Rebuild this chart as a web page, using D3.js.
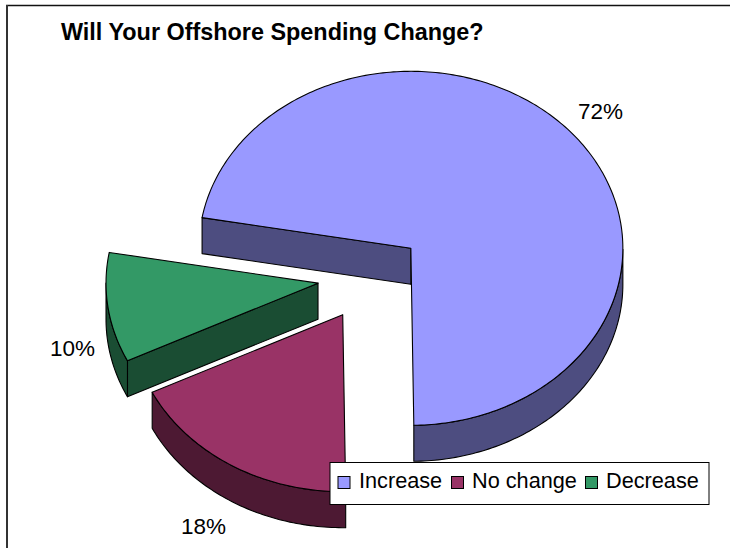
<!DOCTYPE html>
<html>
<head>
<meta charset="utf-8">
<script src="https://cdn.jsdelivr.net/npm/d3@7"></script>
<style>
  html, body { margin: 0; padding: 0; background: #fff; }
  svg { display: block; }
  text { font-family: "Liberation Sans", Arial, sans-serif; fill: #000; }
</style>
</head>
<body>
<svg id="chart" width="730" height="548"></svg>
<script>
// Survey answers, in percent
const categories = ["Increase", "No change", "Decrease"];
const shares = [72, 18, 10];
const topColours = ["#9999ff", "#993366", "#339966"];
const sideColours = ["#4d4d80", "#4d1933", "#1a4d33"];

const svg = d3.select("#chart");

// Tilted pie geometry
const cx = 370.5, cy = 277;
const rx = 212, ry = 177, depth = 36;
const explode = 0.25;
const firstAngle = -80 * Math.PI / 180;

const arcs = d3.pie().sort(null).value(d => d)
  .startAngle(firstAngle)
  .endAngle(firstAngle + 2 * Math.PI)(shares);

const project = (o, a) => [o[0] + rx * Math.sin(a), o[1] - ry * Math.cos(a)];
const curve = d3.line().curve(d3.curveLinear);

function arcPoints(o, a0, a1) {
  const n = Math.max(2, Math.ceil(Math.abs(a1 - a0) * 60));
  return d3.range(n + 1).map(i => project(o, a0 + (a1 - a0) * i / n));
}

const slices = arcs.map((d, i) => {
  const mid = (d.startAngle + d.endAngle) / 2;
  return {
    ...d, i,
    centre: [cx + rx * explode * Math.sin(mid), cy - ry * explode * Math.cos(mid)]
  };
});

const drop = pts => pts.map(p => [p[0], p[1] + depth]);
const frontStart = Math.PI / 2, frontEnd = 3 * Math.PI / 2;

function outerWall(s) {
  // The visible rim is the part of the arc facing the viewer
  const norm = a => ((a % (2 * Math.PI)) + 2 * Math.PI) % (2 * Math.PI);
  const sweep = s.endAngle - s.startAngle;
  const parts = [];
  d3.range(0, 721).forEach(k => {
    const t = s.startAngle + sweep * k / 720;
    const n = norm(t);
    if (n >= frontStart && n <= frontEnd) parts.push(t);
  });
  if (!parts.length) return null;
  const top = arcPoints(s.centre, parts[0], parts[parts.length - 1]);
  return top.concat(drop(top).reverse());
}

function cutWall(s, a) {
  const p = project(s.centre, a);
  const q = s.centre;
  return [q, p, [p[0], p[1] + depth], [q[0], q[1] + depth]];
}

const applyBorder = sel => sel
  .attr("stroke", "#000").attr("stroke-width", 1.1).attr("stroke-linejoin", "round");

// Chart frame: only the top and left edges fall inside the page
svg.append("line").attr("x1", 6).attr("x2", 730).attr("y1", 5.5).attr("y2", 5.5)
  .attr("stroke", "#111").attr("stroke-width", 1.4);
svg.append("line").attr("x1", 7).attr("x2", 7).attr("y1", 5).attr("y2", 548)
  .attr("stroke", "#333").attr("stroke-width", 2);

// Slices are painted back to front: Increase, Decrease, No change
[0, 2, 1].forEach(idx => {
  const s = slices[idx];
  const g = svg.append("g");
  const wall = pts => g.append("path").attr("d", curve(pts) + "Z")
    .attr("fill", sideColours[idx]).call(applyBorder);

  // The cut at the start angle faces forward on the left half of the pie
  if (idx !== 1) wall(cutWall(s, s.startAngle));

  const rim = outerWall(s);
  if (rim) wall(rim);

  const top = [s.centre].concat(arcPoints(s.centre, s.startAngle, s.endAngle));
  g.append("path").attr("d", curve(top) + "Z")
    .attr("fill", topColours[idx]).call(applyBorder);
});

// Percentage labels
const labelFormat = v => v + "%";
const labelSpots = [[600.5, 111], [203.5, 526], [72.5, 348]];
svg.selectAll("text.pct").data(shares).join("text")
  .attr("class", "pct")
  .attr("x", (d, i) => labelSpots[i][0])
  .attr("y", (d, i) => labelSpots[i][1])
  .attr("dy", "0.35em")
  .attr("text-anchor", "middle")
  .attr("font-size", 22.5)
  .text(labelFormat);

// Title
svg.append("text").attr("x", 61).attr("y", 40)
  .attr("font-size", 23.4).attr("font-weight", "bold")
  .text("Will Your Offshore Spending Change?");

// Legend
const legend = svg.append("g");
legend.append("rect").attr("x", 330).attr("y", 462.5).attr("width", 379).attr("height", 42)
  .attr("fill", "#fff").attr("stroke", "#000").attr("stroke-width", 1);
const swatchX = [338, 451.5, 585.5], labelX = [359, 472, 606];
categories.forEach((c, i) => {
  legend.append("rect").attr("x", swatchX[i]).attr("y", 476.5).attr("width", 12).attr("height", 12)
    .attr("fill", topColours[i]).attr("stroke", "#000").attr("stroke-width", 1);
  legend.append("text").attr("x", labelX[i]).attr("y", 488)
    .attr("font-size", 21.7).text(c);
});
</script>
</body>
</html>
